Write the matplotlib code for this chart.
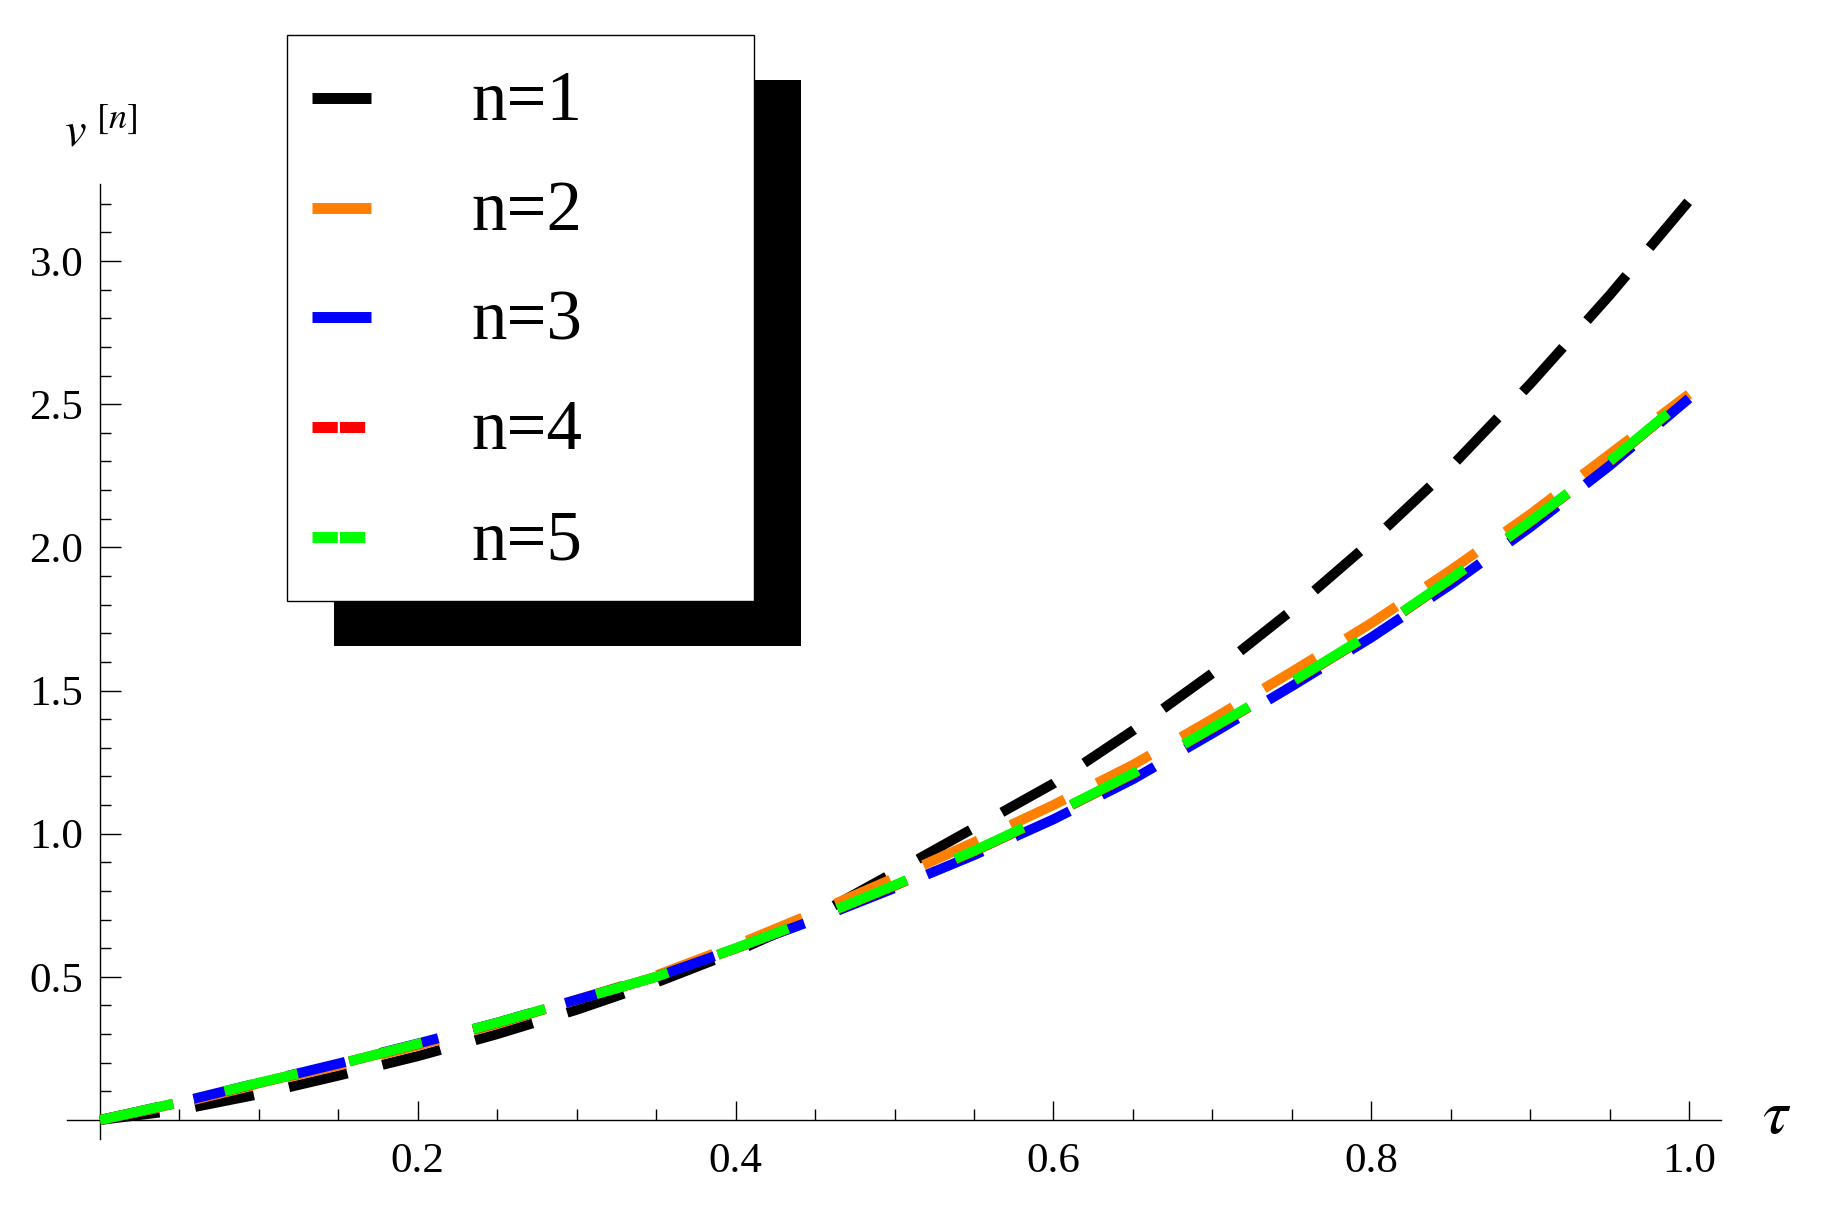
import matplotlib
matplotlib.use("Agg")
import matplotlib.pyplot as plt
from matplotlib.lines import Line2D
from matplotlib.patches import Rectangle
from matplotlib.ticker import FixedLocator

# values
tau = [0.00, 0.05, 0.10, 0.15, 0.20, 0.25, 0.30, 0.35, 0.40, 0.45, 0.50,
       0.55, 0.60, 0.65, 0.70, 0.75, 0.80, 0.85, 0.90, 0.95, 1.00]
v_n1 = [0.000, 0.035, 0.090, 0.155, 0.223, 0.300, 0.385, 0.480, 0.588, 0.712, 0.865,
        1.020, 1.175, 1.360, 1.560, 1.780, 2.020, 2.280, 2.570, 2.880, 3.210]
v_n2 = [0.000, 0.058, 0.125, 0.190, 0.260, 0.335, 0.420, 0.505, 0.610, 0.725, 0.845,
        0.970, 1.100, 1.240, 1.400, 1.565, 1.735, 1.920, 2.115, 2.325, 2.535]
v_n3 = [0.000, 0.062, 0.130, 0.197, 0.267, 0.340, 0.420, 0.500, 0.598, 0.700, 0.810,
        0.925, 1.050, 1.190, 1.350, 1.515, 1.685, 1.870, 2.070, 2.285, 2.520]
v_n4 = [0.000, 0.061, 0.129, 0.195, 0.265, 0.339, 0.419, 0.500, 0.599, 0.704, 0.818,
        0.938, 1.068, 1.208, 1.368, 1.528, 1.698, 1.888, 2.088, 2.298, 2.528]
v_n5 = [0.000, 0.062, 0.130, 0.195, 0.266, 0.340, 0.420, 0.500, 0.600, 0.705, 0.820,
        0.940, 1.070, 1.210, 1.370, 1.530, 1.700, 1.890, 2.090, 2.300, 2.530]

labels = ["n=1", "n=2", "n=3", "n=4", "n=5"]
colors = ["#000000", "#ff7f00", "#0000ff", "#ff0000", "#00ff00"]
series = [v_n1, v_n2, v_n3, v_n4, v_n5]

x_major = [0.2, 0.4, 0.6, 0.8, 1.0]
x_minor = [0.05, 0.1, 0.15, 0.25, 0.3, 0.35, 0.45, 0.5, 0.55,
           0.65, 0.7, 0.75, 0.85, 0.9, 0.95]
y_major = [0.5, 1.0, 1.5, 2.0, 2.5, 3.0]
y_minor = [0.1, 0.2, 0.3, 0.4, 0.6, 0.7, 0.8, 0.9, 1.1, 1.2, 1.3, 1.4,
           1.6, 1.7, 1.8, 1.9, 2.1, 2.2, 2.3, 2.4, 2.6, 2.7, 2.8, 2.9,
           3.1, 3.2]

W, H = 1846, 1217
SERIF = "Liberation Serif"
plt.rcParams["mathtext.fontset"] = "stix"


def fx(px):
    return px / W


def fy(py):
    return 1.0 - py / H


# pixel geometry of the plot (top-left origin)
X0_PX, X1_PX = 100.0, 1689.0   # tau = 0 and tau = 1
Y0_PX, Y3_PX = 1120.0, 261.0   # v = 0 and v = 3
xlim = (-0.021, 1.02)
ylim = (-0.066, 3.27)
sx = X1_PX - X0_PX
sy = (Y0_PX - Y3_PX) / 3.0
left_px = X0_PX + xlim[0] * sx
bottom_px = Y0_PX - ylim[0] * sy

fig = plt.figure(figsize=(W / 100, H / 100), dpi=100)
ax = fig.add_axes([fx(left_px), fy(bottom_px),
                   (xlim[1] - xlim[0]) * sx / W, (ylim[1] - ylim[0]) * sy / H])
ax.set_xlim(*xlim)
ax.set_ylim(*ylim)
ax.patch.set_alpha(0)

lw = 7.2
dash_long = (6.0, 3.6)     # n = 1..3
dash_mid = (7.5, 5.3)      # n = 4, 5
for i, (vals, col) in enumerate(zip(series, colors)):
    dashes = dash_long if i < 3 else dash_mid
    ax.plot(tau, vals, color=col, lw=lw, linestyle=(0, dashes),
            dash_capstyle="butt", solid_joinstyle="miter", clip_on=False,
            zorder=2 + i)

for side in ("top", "right"):
    ax.spines[side].set_visible(False)
for side in ("left", "bottom"):
    ax.spines[side].set_position(("data", 0))
    ax.spines[side].set_linewidth(1.0)

ax.xaxis.set_major_locator(FixedLocator(x_major))
ax.xaxis.set_minor_locator(FixedLocator(x_minor))
ax.yaxis.set_major_locator(FixedLocator(y_major))
ax.yaxis.set_minor_locator(FixedLocator(y_minor))
ax.set_xticklabels([f"{v:.1f}" for v in x_major])
ax.set_yticklabels([f"{v:.1f}" for v in y_major])
ax.tick_params(axis="x", which="major", direction="in", length=13.7, width=1.0,
               labelsize=31, pad=16)
ax.tick_params(axis="y", which="major", direction="in", length=15, width=1.0,
               labelsize=31, pad=12)
ax.tick_params(which="minor", direction="in", length=8, width=1.0)
for lab in ax.get_xticklabels() + ax.get_yticklabels():
    lab.set_fontfamily(SERIF)

# axis labels
fig.text(fx(64), fy(145), r"$v$", fontsize=35, ha="left", va="baseline")
fig.text(fx(96), fy(128), r"$[n]$", fontsize=26, ha="left", va="baseline")
fig.text(fx(1762), fy(1133), r"$\tau$", fontsize=46, ha="left", va="baseline")

# legend box with hard shadow
shadow = Rectangle((fx(334), fy(646)), (801 - 334) / W, (646 - 80) / H,
                   transform=fig.transFigure, facecolor="black",
                   edgecolor="none", zorder=10)
box = Rectangle((fx(287), fy(601)), (754 - 287) / W, (601 - 35) / H,
                transform=fig.transFigure, facecolor="white",
                edgecolor="black", lw=1.0, zorder=11)
fig.add_artist(shadow)
fig.add_artist(box)

row_y = [98, 208, 317, 427, 537]
for i, (lab, col, ry) in enumerate(zip(labels, colors, row_y)):
    if i < 3:
        h = Line2D([fx(312), fx(371)], [fy(ry), fy(ry)], transform=fig.transFigure,
                   color=col, lw=7.9, solid_capstyle="butt", zorder=12)
    else:
        h = Line2D([fx(312), fx(366)], [fy(ry), fy(ry)], transform=fig.transFigure,
                   color=col, lw=7.9, linestyle=(0, (2.3, 0.2)),
                   dash_capstyle="butt", zorder=12)
    fig.add_artist(h)
    fig.text(fx(471), fy(ry + 22), lab, fontsize=51, family=SERIF,
             ha="left", va="baseline", zorder=12)

fig.savefig("out.png", dpi=100)
